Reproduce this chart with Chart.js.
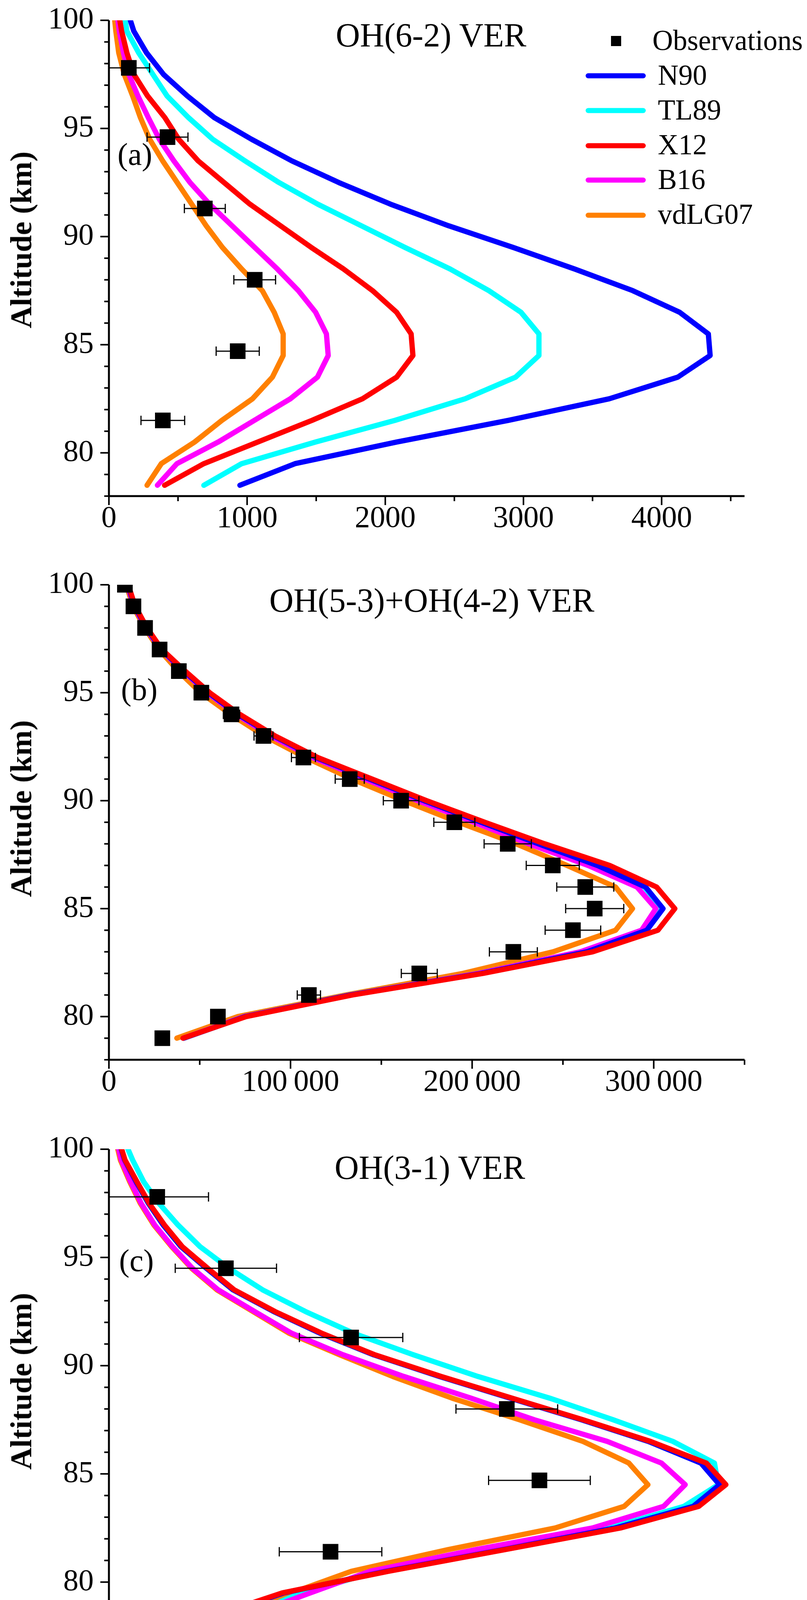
<!DOCTYPE html>
<html>
<head>
<meta charset="utf-8">
<title>OH VER profiles</title>
<script src="https://cdn.jsdelivr.net/npm/chart.js@4.4.1/dist/chart.umd.min.js"></script>
<style>
  html, body { margin: 0; padding: 0; background: #fff; }
  #page { position: relative; width: 2067px; height: 4381px; overflow: hidden;
          font-family: 'Liberation Serif', 'Times New Roman', serif; color: #000; }
  canvas { position: absolute; left: 0; }
  .t { position: absolute; white-space: nowrap; line-height: 1; z-index: 2; }
  .c { transform: translate(-50%, -50%); }
  .l { transform: translate(0, -50%); }
  .ylab { font-weight: bold; font-size: 78px; transform: translate(-50%, -50%) rotate(-90deg); }
  .title { font-size: 86px; }
  .tag { font-size: 80px; }
  .leg { font-size: 73px; }
  .legline { position: absolute; height: 13px; width: 154px; left: 1500px; border-radius: 7px; z-index: 2; transform: translateY(-50%); }
  sup { font-size: 0.68em; position: relative; top: -0.55em; vertical-align: baseline; }
</style>
</head>
<body>
<div id="page">
  <canvas id="panelA" width="2067" height="1440" style="top:0px"></canvas>
  <canvas id="panelB" width="2067" height="1440" style="top:1440px"></canvas>
  <canvas id="panelC" width="2067" height="1501" style="top:2880px"></canvas>

  <div class="t c title" style="left:1104px; top:90px">OH(6-2) VER</div>
  <div class="t c title" style="left:1106px; top:1537px">OH(5-3)+OH(4-2) VER</div>
  <div class="t c title" style="left:1101px; top:2989px">OH(3-1) VER</div>

  <div class="t l tag" style="left:301px; top:395px">(a)</div>
  <div class="t l tag" style="left:310px; top:1765px">(b)</div>
  <div class="t l tag" style="left:305px; top:3227px">(c)</div>

  <div class="t ylab" style="left:54px; top:614px">Altitude (km)</div>
  <div class="t ylab" style="left:54px; top:2070px">Altitude (km)</div>
  <div class="t ylab" style="left:54px; top:3536px">Altitude (km)</div>

  <div class="t c" style="left:1109px; top:4333px; font-size:80px">Photons cm<sup>-3</sup> s<sup>-1</sup></div>

  <div id="legend"></div>
</div>

<script>
// altitude grids (km)
const ALT_HALF = [78.5, 79.5, 80.5, 81.5, 82.5, 83.5, 84.5, 85.5, 86.5, 87.5, 88.5, 89.5,
                  90.5, 91.5, 92.5, 93.5, 94.5, 95.5, 96.5, 97.5, 98.5, 99.5, 100];
const ALT_INT = [79, 80, 81, 82, 83, 84, 85, 86, 87, 88, 89, 90, 91, 92, 93, 94, 95, 96, 97, 98, 99, 100];

// tick labels
const Y_TICKS = [80, 85, 90, 95, 100];
const A_XTICKS = [0, 1000, 2000, 3000, 4000];
const B_XTICKS = [0, 100000, 200000, 300000];
const C_XTICKS = [0, 50000, 100000, 150000];

// (a) OH(6-2) VER, photons cm-3 s-1
const A_N90    = [948, 1347, 2082, 2891, 3621, 4117, 4351, 4338, 4130, 3791, 3370, 2925, 2458, 2037, 1663, 1324, 1032, 763, 568, 395, 272, 180, 155];
const A_TL89   = [687, 961, 1496, 2069, 2578, 2943, 3112, 3112, 2982, 2750, 2469, 2142, 1827, 1511, 1230, 985, 751, 576, 421, 318, 215, 130, 118];
const A_X12    = [403, 687, 1078, 1469, 1835, 2082, 2200, 2187, 2082, 1908, 1698, 1464, 1242, 1020, 833, 646, 505, 405, 280, 181, 130, 92, 79];
const A_B16    = [351, 492, 791, 1052, 1313, 1509, 1587, 1574, 1496, 1371, 1219, 1055, 891, 728, 587, 470, 365, 285, 210, 144, 105, 75, 65];
const A_VDLG07 = [276, 379, 620, 817, 1039, 1183, 1261, 1261, 1196, 1110, 961, 821, 704, 599, 494, 389, 295, 228, 172, 111, 71, 50, 42];
const A_OBS_ALT = [97.8, 94.6, 91.3, 88.0, 84.7, 81.5];
const A_OBS     = [144, 424, 694, 1055, 932, 390];
const A_OBS_ERR = [150, 148, 148, 151, 156, 158];

// (b) OH(5-3)+OH(4-2) VER
const B_N90    = [41300, 75000, 133000, 205000, 263200, 296200, 305100, 295500, 269000, 236500, 205000, 173500, 143500, 114000, 90800, 71000, 54800, 41400, 28800, 20600, 14200, 10300];
const B_TL89   = [41000, 74600, 132600, 204300, 262300, 295400, 304400, 294800, 268300, 235800, 204300, 172800, 142900, 113600, 90400, 70700, 54500, 41200, 28700, 20500, 14100, 10200];
const B_X12    = [40800, 75600, 134000, 206000, 266400, 302300, 311600, 301600, 275800, 240000, 207000, 175000, 145000, 115000, 91500, 72000, 55500, 42000, 29200, 21000, 14500, 10600];
const B_B16    = [41000, 74500, 132800, 203500, 259600, 293300, 301200, 290800, 263900, 231200, 201000, 170000, 141000, 112000, 89000, 70000, 54000, 40800, 28500, 20300, 13900, 10000];
const B_VDLG07 = [37400, 71000, 130500, 195000, 244600, 279000, 288300, 279000, 252300, 224300, 192500, 162400, 133900, 108300, 85600, 67000, 50500, 38200, 27600, 19700, 13300, 9500];
const B_OBS     = [29400, 60000, 110100, 170900, 222700, 255500, 267500, 262300, 244400, 219600, 190200, 160900, 132600, 107100, 85100, 67500, 50900, 38500, 27900, 19900, 13500, 8800];
const B_OBS_ERR = [2500, 3000, 6400, 9900, 13200, 15300, 16000, 15700, 14600, 13000, 11300, 9800, 8000, 6600, 5200, 4500, 3500, 2800, 2200, 1700, 1200, 900];

// (c) OH(3-1) VER
const C_N90    = [26000, 41300, 65500, 93000, 119400, 137900, 144100, 139700, 127300, 111500, 94700, 78000, 62500, 49800, 38900, 29300, 23000, 17000, 12800, 9300, 6400, 3700, 2900];
const C_TL89   = [33000, 45500, 63500, 91500, 118100, 135700, 143800, 142900, 133100, 119000, 104000, 87100, 71900, 57700, 46400, 36300, 28300, 21500, 16300, 11800, 8200, 5600, 4500];
const C_X12    = [25500, 40900, 66000, 93400, 120700, 139200, 145600, 141000, 127800, 111900, 95100, 78400, 62800, 50200, 39200, 29600, 23300, 17300, 13100, 9500, 6600, 3800, 3000];
const C_B16    = [33600, 47500, 61600, 86500, 114100, 130900, 136000, 130400, 117600, 100400, 85400, 69600, 55300, 43100, 34400, 25800, 19700, 15000, 10800, 7600, 5100, 2900, 2300];
const C_VDLG07 = [30600, 43100, 57200, 80000, 105300, 121600, 127200, 122700, 111900, 96900, 81000, 67000, 54500, 42500, 34000, 25500, 19500, 14800, 10600, 7400, 4900, 2700, 2100];
const C_OBS_ALT = [97.8, 94.5, 91.3, 88.0, 84.7, 81.4, 78.2];
const C_OBS     = [11400, 27600, 57150, 93900, 101600, 52300, 17700];
const C_OBS_ERR = [12100, 11950, 12200, 12000, 12000, 12100, 14300];

const MODELS = ['N90', 'TL89', 'X12', 'B16', 'vdLG07'];
const COLORS = { N90: '#0000ff', TL89: '#00ffff', X12: '#ff0000', B16: '#ff00ff', vdLG07: '#ff8000' };
// lower order is drawn on top
const ORDER = { X12: 1, N90: 2, B16: 3, TL89: 4, vdLG07: 5 };

Chart.defaults.font.family = "'Liberation Serif', 'Times New Roman', serif";
Chart.defaults.color = '#000';

function pts(xs, ys) { return xs.map((v, i) => ({ x: v, y: ys[i] })); }

function fmtTick(v) {
  if (v >= 10000) {
    const s = String(v);
    return s.slice(0, -3) + '\u2009' + s.slice(-3);
  }
  return String(v);
}

function modelSet(name, values, alts) {
  return {
    label: name, data: pts(values, alts), showLine: true,
    borderColor: COLORS[name], backgroundColor: COLORS[name],
    borderWidth: 13.5, pointRadius: 0, borderCapStyle: 'round', borderJoinStyle: 'round',
    order: ORDER[name], clip: 0
  };
}

function obsSet(values, alts, err) {
  return {
    label: 'Observations', data: pts(values, alts), errX: err,
    pointStyle: 'rect', pointRadius: 28.3, backgroundColor: '#000', borderWidth: 0,
    order: 0, clip: 0
  };
}

// axis lines and outward tick marks, minor ones shorter
const axesDraw = {
  id: 'axesDraw',
  afterDraw(chart, args, opts) {
    const { ctx, chartArea: a, scales: { x, y } } = chart;
    ctx.save();
    ctx.strokeStyle = '#000';
    ctx.lineWidth = 5;
    ctx.beginPath();
    ctx.moveTo(a.left, a.top);
    ctx.lineTo(a.left, a.bottom + 2.5);
    ctx.moveTo(a.left - 2.5, a.bottom);
    ctx.lineTo(a.right, a.bottom);
    ctx.stroke();
    ctx.lineWidth = 4;
    for (let v = y.min; v <= y.max + 1e-9; v += opts.yMinor) {
      const py = y.getPixelForValue(v);
      const len = Math.abs(v % opts.yMajor) < 1e-9 ? 22 : 12;
      ctx.beginPath(); ctx.moveTo(a.left, py); ctx.lineTo(a.left - len, py); ctx.stroke();
    }
    for (let v = x.min; v <= x.max + 1e-9; v += opts.xMinor) {
      const px = x.getPixelForValue(v);
      const len = Math.abs(v % opts.xMajor) < 1e-9 ? 23 : 13;
      ctx.beginPath(); ctx.moveTo(px, a.bottom); ctx.lineTo(px, a.bottom + len); ctx.stroke();
    }
    ctx.restore();
  }
};

// horizontal error bars for the observation dataset
const errorBars = {
  id: 'errorBars',
  afterDatasetsDraw(chart) {
    const { ctx, chartArea: a, scales: { x, y } } = chart;
    ctx.save();
    ctx.beginPath();
    ctx.rect(a.left, a.top, a.right - a.left, a.bottom - a.top);
    ctx.clip();
    ctx.strokeStyle = '#000';
    ctx.lineWidth = 3;
    chart.data.datasets.forEach(ds => {
      if (!ds.errX) return;
      ds.data.forEach((p, i) => {
        const e = ds.errX[i];
        const x0 = x.getPixelForValue(p.x - e), x1 = x.getPixelForValue(p.x + e);
        const py = y.getPixelForValue(p.y);
        ctx.beginPath();
        ctx.moveTo(x0, py); ctx.lineTo(x1, py);
        ctx.moveTo(x0, py - 12); ctx.lineTo(x0, py + 12);
        ctx.moveTo(x1, py - 12); ctx.lineTo(x1, py + 12);
        ctx.stroke();
      });
    });
    ctx.restore();
  }
};

function makePanel(id, cfg) {
  return new Chart(document.getElementById(id), {
    type: 'scatter',
    data: { datasets: cfg.datasets },
    options: {
      responsive: false, animation: false, events: [], devicePixelRatio: 1,
      layout: { padding: { left: 0, top: cfg.top, right: 2067 - 1907, bottom: 0 } },
      plugins: {
        legend: { display: false }, tooltip: { enabled: false },
        axesDraw: { xMajor: cfg.xMajor, xMinor: cfg.xMinor, yMajor: 5, yMinor: 1 }
      },
      scales: {
        x: {
          type: 'linear', position: 'bottom', min: 0, max: cfg.xMax,
          grid: { display: false, drawTicks: false }, border: { display: false },
          ticks: { autoSkip: false, maxRotation: 0, minRotation: 0, padding: 12, font: { size: 78 },
                   callback: v => fmtTick(v) },
          afterBuildTicks: s => { s.ticks = cfg.xTicks.map(v => ({ value: v })); },
          afterFit: s => { s.height = cfg.height - cfg.bottom; s.paddingLeft = 0; s.paddingRight = 0; }
        },
        y: {
          type: 'linear', position: 'left', min: 78, max: 100,
          grid: { display: false, drawTicks: false }, border: { display: false },
          ticks: { autoSkip: false, padding: 39, font: { size: 78 }, callback: v => String(v) },
          afterBuildTicks: s => { s.ticks = Y_TICKS.map(v => ({ value: v })); },
          afterFit: s => { s.width = 279; s.paddingTop = 0; s.paddingBottom = 0; }
        }
      }
    },
    plugins: [axesDraw, errorBars]
  });
}

const A_SERIES = { N90: A_N90, TL89: A_TL89, X12: A_X12, B16: A_B16, vdLG07: A_VDLG07 };
const B_SERIES = { N90: B_N90, TL89: B_TL89, X12: B_X12, B16: B_B16, vdLG07: B_VDLG07 };
const C_SERIES = { N90: C_N90, TL89: C_TL89, X12: C_X12, B16: C_B16, vdLG07: C_VDLG07 };

makePanel('panelA', {
  top: 52, bottom: 1270, height: 1440, xMax: 4600, xMinor: 500, xMajor: 1000, xTicks: A_XTICKS,
  datasets: [obsSet(A_OBS, A_OBS_ALT, A_OBS_ERR)].concat(MODELS.map(m => modelSet(m, A_SERIES[m], ALT_HALF)))
});
makePanel('panelB', {
  top: 57, bottom: 1273, height: 1440, xMax: 350000, xMinor: 50000, xMajor: 100000, xTicks: B_XTICKS,
  datasets: [obsSet(B_OBS, ALT_INT, B_OBS_ERR)].concat(MODELS.map(m => modelSet(m, B_SERIES[m], ALT_INT)))
});
makePanel('panelC', {
  top: 62, bottom: 1281, height: 1501, xMax: 150000, xMinor: 25000, xMajor: 50000, xTicks: C_XTICKS,
  datasets: [obsSet(C_OBS, C_OBS_ALT, C_OBS_ERR)].concat(MODELS.map(m => modelSet(m, C_SERIES[m], ALT_HALF)))
});

// legend of panel (a)
const LEGEND_LINE_Y = [194, 283, 373, 461, 551];
const LEGEND_TEXT_Y = [192, 281, 370, 459, 548];
const leg = document.getElementById('legend');
let html = '<div style="position:absolute;left:1565px;top:92px;width:26px;height:26px;background:#000;z-index:2"></div>' +
           '<div class="t l leg" style="left:1671px;top:103px">Observations</div>';
MODELS.forEach((m, i) => {
  html += '<div class="legline" style="top:' + LEGEND_LINE_Y[i] + 'px;background:' + COLORS[m] + '"></div>' +
          '<div class="t l leg" style="left:1685px;top:' + LEGEND_TEXT_Y[i] + 'px">' + m + '</div>';
});
leg.innerHTML = html;
</script>
</body>
</html>
